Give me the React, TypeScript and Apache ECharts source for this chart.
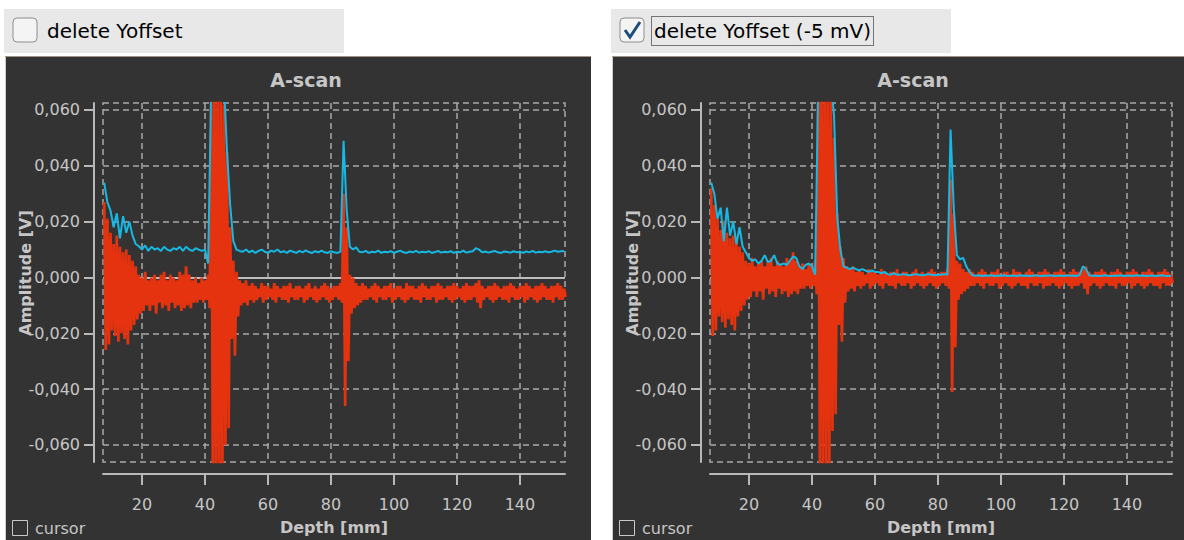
import { useEffect, useRef } from "react";
import * as echarts from "echarts";

// Depth sampling: one positive/negative RF swing and one envelope value per millimetre.
const DEPTH_FIRST_MM = 8;
const DEPTH_STEP_MM = 1;

// Visible window of both A-scans.
const X_MIN = 7.62;
const X_MAX = 154.3;
const Y_MIN = -0.0661;
const Y_MAX = 0.0625;

const xTicks = [20, 40, 60, 80, 100, 120, 140];
const yTicks = [-0.06, -0.04, -0.02, 0, 0.02, 0.04, 0.06];

// Offset that "delete Yoffset" removes from the raw RF signal (V).
const Y_OFFSET_V = -0.005;

// Raw RF signal: positive swing per millimetre, 8 … 154 mm (V).
const rfHigh = [
  0.027, 0.021, 0.016, 0.012, 0.015, 0.011, 0.009, 0.010, 0.008, 0.006,
  0.004, 0.001, 0.000, 0.002, -0.001, 0.000, 0.001, -0.001, 0.001, 0.002,
  -0.001, 0.001, 0.000, -0.001, 0.002, 0.001, 0.004, 0.001, -0.001, 0.000,
  -0.002, 0.000, -0.001, 0.001, 0.070, 0.070, 0.070, 0.070, 0.062, 0.045,
  0.018, 0.006, 0.002, -0.001, -0.002, -0.001, -0.003, -0.002, -0.003, -0.004,
  -0.002, -0.003, -0.003, -0.004, -0.002, -0.003, -0.004, -0.003, -0.003, -0.002,
  -0.004, -0.003, -0.003, -0.004, -0.003, -0.002, -0.004, -0.003, -0.004, -0.003,
  -0.002, -0.003, -0.004, -0.003, -0.003, -0.002, 0.030, 0.018, 0.001, 0.000,
  -0.002, -0.003, -0.002, -0.003, -0.004, -0.003, -0.002, -0.003, -0.004, -0.003,
  -0.003, -0.002, -0.004, -0.003, -0.003, -0.004, -0.002, -0.003, -0.003, -0.004,
  -0.003, -0.002, -0.003, -0.004, -0.003, -0.003, -0.002, -0.003, -0.004, -0.003,
  -0.003, -0.002, -0.003, -0.004, -0.003, -0.002, -0.003, -0.003, -0.002, -0.001,
  -0.003, -0.004, -0.003, -0.003, -0.002, -0.003, -0.004, -0.003, -0.003, -0.002,
  -0.003, -0.004, -0.003, -0.003, -0.002, -0.003, -0.004, -0.003, -0.003, -0.002,
  -0.003, -0.004, -0.003, -0.003, -0.002, -0.003, -0.004,
];

// Raw RF signal: negative swing per millimetre, 8 … 154 mm (V).
const rfLow = [
  -0.026, -0.024, -0.019, -0.021, -0.023, -0.020, -0.022, -0.024, -0.019, -0.017,
  -0.015, -0.013, -0.012, -0.010, -0.012, -0.010, -0.013, -0.009, -0.011, -0.010,
  -0.012, -0.009, -0.011, -0.010, -0.012, -0.011, -0.010, -0.011, -0.009, -0.009,
  -0.008, -0.009, -0.008, -0.011, -0.075, -0.075, -0.075, -0.075, -0.060, -0.054,
  -0.022, -0.028, -0.014, -0.010, -0.009, -0.010, -0.008, -0.009, -0.008, -0.007,
  -0.009, -0.008, -0.007, -0.008, -0.009, -0.007, -0.008, -0.008, -0.009, -0.007,
  -0.008, -0.008, -0.007, -0.009, -0.008, -0.007, -0.008, -0.009, -0.008, -0.007,
  -0.008, -0.009, -0.008, -0.007, -0.008, -0.009, -0.046, -0.030, -0.013, -0.011,
  -0.010, -0.009, -0.008, -0.008, -0.007, -0.008, -0.009, -0.007, -0.008, -0.008,
  -0.007, -0.009, -0.008, -0.007, -0.008, -0.009, -0.008, -0.007, -0.008, -0.008,
  -0.009, -0.007, -0.008, -0.008, -0.007, -0.009, -0.008, -0.008, -0.007, -0.008,
  -0.009, -0.008, -0.007, -0.008, -0.009, -0.008, -0.008, -0.007, -0.009, -0.011,
  -0.008, -0.007, -0.008, -0.009, -0.008, -0.007, -0.008, -0.008, -0.009, -0.007,
  -0.008, -0.008, -0.007, -0.009, -0.008, -0.007, -0.008, -0.009, -0.008, -0.007,
  -0.008, -0.008, -0.009, -0.007, -0.008, -0.008, -0.007,
];

// Envelope of the raw signal, 8 … 154 mm (V).
const envelopeRaw = [
  0.034, 0.027, 0.024, 0.018, 0.023, 0.014, 0.022, 0.016, 0.020, 0.015,
  0.012, 0.0112, 0.0100, 0.0115, 0.0095, 0.0110, 0.0100, 0.0105, 0.0095, 0.0110,
  0.0100, 0.0095, 0.0105, 0.0100, 0.0110, 0.0095, 0.0110, 0.0100, 0.0095, 0.0105,
  0.0100, 0.0095, 0.0100, 0.0050, 0.070, 0.070, 0.070, 0.070, 0.070, 0.045,
  0.026, 0.013, 0.0100, 0.0095, 0.0092, 0.0100, 0.0090, 0.0096, 0.0088, 0.0095,
  0.0100, 0.0092, 0.0088, 0.0096, 0.0092, 0.0100, 0.0090, 0.0094, 0.0088, 0.0096,
  0.0092, 0.0088, 0.0095, 0.0090, 0.0097, 0.0091, 0.0088, 0.0094, 0.0090, 0.0096,
  0.0090, 0.0088, 0.0094, 0.0090, 0.0088, 0.0092, 0.049, 0.024, 0.0110, 0.0100,
  0.0108, 0.0092, 0.0090, 0.0095, 0.0088, 0.0092, 0.0090, 0.0096, 0.0088, 0.0092,
  0.0090, 0.0094, 0.0088, 0.0092, 0.0096, 0.0090, 0.0088, 0.0093, 0.0090, 0.0095,
  0.0089, 0.0092, 0.0090, 0.0094, 0.0088, 0.0091, 0.0095, 0.0089, 0.0092, 0.0090,
  0.0094, 0.0088, 0.0092, 0.0090, 0.0096, 0.0089, 0.0092, 0.0094, 0.0105, 0.0100,
  0.0090, 0.0093, 0.0089, 0.0092, 0.0095, 0.0090, 0.0088, 0.0093, 0.0091, 0.0089,
  0.0094, 0.0090, 0.0092, 0.0088, 0.0093, 0.0090, 0.0095, 0.0089, 0.0092, 0.0090,
  0.0094, 0.0090, 0.0092, 0.0096, 0.0092, 0.0094, 0.0095,
];

// Envelope after the offset has been removed, 8 … 154 mm (V).
const envelopeCorrected = [
  0.034, 0.030, 0.021, 0.025, 0.013, 0.025, 0.015, 0.020, 0.012, 0.018,
  0.011, 0.009, 0.0070, 0.0060, 0.0065, 0.0050, 0.0060, 0.0080, 0.0055, 0.0060,
  0.0080, 0.0050, 0.0045, 0.0050, 0.0045, 0.0060, 0.0075, 0.0070, 0.0040, 0.0030,
  0.0045, 0.0050, 0.0040, 0.0010, 0.070, 0.070, 0.070, 0.070, 0.070, 0.058,
  0.022, 0.010, 0.0040, 0.0035, 0.0030, 0.0035, 0.0030, 0.0025, 0.0030, 0.0025,
  0.0020, 0.0025, 0.0020, 0.0020, 0.0015, 0.0020, 0.0012, 0.0010, 0.0015, 0.0010,
  0.0010, 0.0012, 0.0010, 0.0008, 0.0010, 0.0012, 0.0010, 0.0008, 0.0010, 0.0012,
  0.0010, 0.0008, 0.0010, 0.0010, 0.0012, 0.0010, 0.053, 0.025, 0.0080, 0.0065,
  0.0070, 0.0040, 0.0020, 0.0008, 0.0006, 0.0008, 0.0005, 0.0007, 0.0006, 0.0008,
  0.0005, 0.0007, 0.0006, 0.0008, 0.0005, 0.0006, 0.0007, 0.0005, 0.0008, 0.0006,
  0.0007, 0.0005, 0.0006, 0.0008, 0.0006, 0.0005, 0.0007, 0.0006, 0.0008, 0.0005,
  0.0006, 0.0007, 0.0005, 0.0008, 0.0006, 0.0007, 0.0005, 0.0010, 0.0040, 0.0030,
  0.0008, 0.0006, 0.0007, 0.0005, 0.0006, 0.0008, 0.0006, 0.0005, 0.0007, 0.0006,
  0.0008, 0.0005, 0.0006, 0.0007, 0.0005, 0.0008, 0.0006, 0.0007, 0.0005, 0.0006,
  0.0007, 0.0005, 0.0006, 0.0008, 0.0006, 0.0005, 0.0006,
];

const FONT = "DejaVu Sans";
const PANEL_BG = "#333333";
const TEXT_GREY = "#c6c6c6";
const AXIS_GREY = "#b8b8b8";
const GRID_GREY = "#a9a9a9";
const RF_RED = "#e5330f";
const ENV_CYAN = "#17b8e3";

const depths = rfHigh.map((_, i) => DEPTH_FIRST_MM + i * DEPTH_STEP_MM);

// The RF trace swings between its positive and negative extreme within each millimetre.
function rfTrace(offset: number): [number, number][] {
  const pts: [number, number][] = [];
  depths.forEach((d, i) => {
    pts.push([d, rfHigh[i] - offset]);
    pts.push([d + DEPTH_STEP_MM / 2, rfLow[i] - offset]);
  });
  return pts;
}

function envelopeTrace(values: number[]): [number, number][] {
  return depths.map((d, i) => [d, values[i]]);
}

const formatVolts = (v: number) => v.toFixed(3).replace(".", ",");

function axesFor(gridIndex: number) {
  const xAxis = {
    type: "value",
    gridIndex,
    min: X_MIN,
    max: X_MAX,
    position: "bottom",
    offset: 12,
    name: "Depth [mm]",
    nameLocation: "middle",
    nameGap: 45,
    nameTextStyle: { color: TEXT_GREY, fontFamily: FONT, fontSize: 16, fontWeight: "bold" },
    axisLine: { show: true, onZero: false, lineStyle: { color: AXIS_GREY, width: 2 } },
    axisTick: { show: true, customValues: xTicks, length: 11, lineStyle: { color: AXIS_GREY, width: 2 } },
    axisLabel: { customValues: xTicks, margin: 22, color: TEXT_GREY, fontFamily: FONT, fontSize: 16 },
    splitLine: { show: true, lineStyle: { color: GRID_GREY, width: 1.5, type: [6, 4] } },
  };
  const yAxis = {
    type: "value",
    gridIndex,
    min: Y_MIN,
    max: Y_MAX,
    offset: 9,
    axisLine: { show: true, onZero: false, lineStyle: { color: AXIS_GREY, width: 2 } },
    axisTick: { show: true, customValues: yTicks, length: 10, lineStyle: { color: AXIS_GREY, width: 2 } },
    axisLabel: {
      customValues: yTicks,
      margin: 14,
      color: TEXT_GREY,
      fontFamily: FONT,
      fontSize: 16,
      formatter: (v: number) => formatVolts(v),
    },
    splitLine: { show: true, lineStyle: { color: GRID_GREY, width: 1.5, type: [6, 4] } },
  };
  return { xAxis, yAxis };
}

function seriesFor(gridIndex: number, offset: number, envelope: number[]) {
  return [
    {
      name: "A-scan",
      type: "line",
      xAxisIndex: gridIndex,
      yAxisIndex: gridIndex,
      data: rfTrace(offset),
      showSymbol: false,
      symbol: "none",
      clip: true,
      z: 3,
      lineStyle: { color: RF_RED, width: 2.7, join: "bevel" },
      markLine: {
        silent: true,
        symbol: "none",
        z: 2,
        label: { show: false },
        lineStyle: { color: "#bdbdbd", width: 2, type: "solid" },
        data: [{ yAxis: 0 }],
      },
    },
    {
      name: "envelope",
      type: "line",
      xAxisIndex: gridIndex,
      yAxisIndex: gridIndex,
      data: envelopeTrace(envelope),
      showSymbol: false,
      symbol: "none",
      clip: true,
      z: 4,
      lineStyle: { color: ENV_CYAN, width: 2 },
    },
  ];
}

function panelGraphics(dx: number, label: string, checked: boolean) {
  const els: any[] = [
    // checkbox strip above the chart
    { type: "rect", z: -5, shape: { x: 4 + dx, y: 9, width: 340, height: 44 }, style: { fill: "#e8e8e8" } },
    {
      type: "rect",
      z: -4,
      shape: { x: 13 + dx, y: 18, width: 24, height: 24, r: 4 },
      style: { fill: "#f4f4f4", stroke: "#8e8e8e", lineWidth: 1 },
    },
    {
      type: "text",
      z: -3,
      x: 47 + dx,
      y: 31,
      style: { text: label, fill: "#000000", font: `20px '${FONT}'`, verticalAlign: "middle" },
    },
    // dark chart panel
    { type: "rect", z: -5, shape: { x: 5 + dx, y: 56, width: 586, height: 484 }, style: { fill: PANEL_BG } },
    { type: "line", z: -4, shape: { x1: 5.5 + dx, y1: 56, x2: 5.5 + dx, y2: 540 }, style: { stroke: "#d2cec6", lineWidth: 1 } },
    { type: "line", z: -4, shape: { x1: 5 + dx, y1: 56.5, x2: 591 + dx, y2: 56.5 }, style: { stroke: "#9d9587", lineWidth: 1 } },
    // "cursor" toggle in the lower-left corner
    {
      type: "rect",
      z: -3,
      shape: { x: 12.5 + dx, y: 520.5, width: 15, height: 15 },
      style: { fill: "none", stroke: "#c8c8c8", lineWidth: 1 },
    },
    {
      type: "text",
      z: -3,
      x: 35 + dx,
      y: 528,
      style: { text: "cursor", fill: TEXT_GREY, font: `16px '${FONT}'`, verticalAlign: "middle" },
    },
    {
      type: "text",
      z: 10,
      x: 25 + dx,
      y: 273,
      rotation: Math.PI / 2,
      style: {
        text: "Amplitude [V]",
        fill: TEXT_GREY,
        font: `bold 16px '${FONT}'`,
        align: "center",
        verticalAlign: "middle",
      },
    },
  ];
  if (checked) {
    els.push({
      type: "polyline",
      z: -2,
      shape: { points: [[18 + dx, 30], [23 + dx, 37], [33 + dx, 22]] },
      style: { stroke: "#1d4e7a", lineWidth: 3, fill: "none" },
    });
    els.push({
      type: "rect",
      z: -2,
      shape: { x: 44.5 + dx, y: 16.5, width: 222, height: 29 },
      style: { fill: "none", stroke: "#000000", lineWidth: 1, lineDash: [1, 1] },
    });
  }
  return els;
}

export default function App() {
  const ref = useRef<HTMLDivElement>(null);

  useEffect(() => {
    if (!ref.current) return;
    const chart = echarts.init(ref.current, null, { renderer: "svg" });

    const left = axesFor(0);
    const right = axesFor(1);
    const gridBase = {
      show: true,
      top: 103,
      width: 462,
      height: 360,
      borderColor: GRID_GREY,
      borderWidth: 1.5,
      borderType: [6, 4],
      backgroundColor: "transparent",
    };

    chart.setOption({
      animation: false,
      backgroundColor: "#ffffff",
      title: [
        {
          text: "A-scan",
          left: 301,
          top: 65,
          textAlign: "center",
          textStyle: { color: TEXT_GREY, fontFamily: FONT, fontSize: 19, fontWeight: "bold" },
        },
        {
          text: "A-scan",
          left: 908,
          top: 65,
          textAlign: "center",
          textStyle: { color: TEXT_GREY, fontFamily: FONT, fontSize: 19, fontWeight: "bold" },
        },
      ],
      grid: [
        { ...gridBase, left: 103 },
        { ...gridBase, left: 710 },
      ],
      xAxis: [left.xAxis, right.xAxis],
      yAxis: [left.yAxis, right.yAxis],
      series: [...seriesFor(0, 0, envelopeRaw), ...seriesFor(1, Y_OFFSET_V, envelopeCorrected)],
      graphic: [
        ...panelGraphics(0, "delete Yoffset", false),
        ...panelGraphics(607, "delete Yoffset (-5 mV)", true),
      ],
    });

    return () => chart.dispose();
  }, []);

  return (
    <div
      ref={ref}
      style={{ position: "absolute", left: 0, top: 0, width: 1184, height: 540 }}
    />
  );
}
